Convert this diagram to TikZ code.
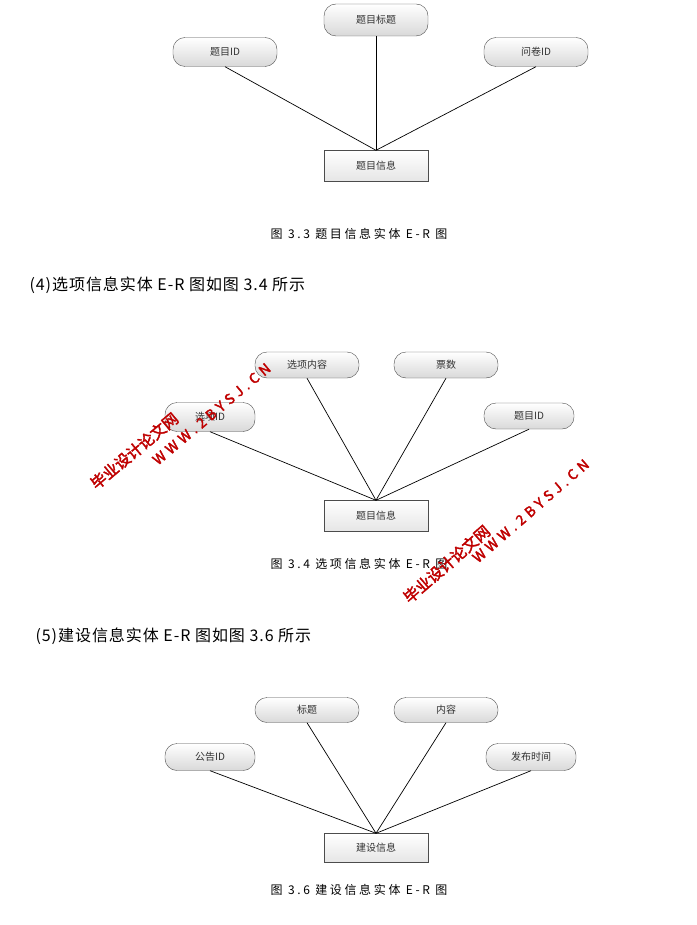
\documentclass[tikz,border=0pt]{standalone}
\usepackage{fontspec}
\setmainfont{Noto Sans CJK SC}
\newfontfamily\capfont[LetterSpace=22]{Noto Sans CJK SC}
\newfontfamily\headfont[LetterSpace=6]{Noto Sans CJK SC}
\newfontfamily\wmfont[FakeBold=2.5]{Noto Sans CJK SC}
\newfontfamily\wmlatin[FakeBold=2.5,LetterSpace=30]{Noto Sans CJK SC}
\tikzset{
  attr/.style={draw=black!70,rounded corners=12pt,minimum width=104pt,minimum height=29pt,
    top color=white,bottom color=black!15,font=\fontsize{10}{10}\selectfont,text=black!80},
  ent/.style={draw=black!70,minimum width=104pt,minimum height=31pt,
    top color=white,bottom color=black!10,font=\fontsize{10}{10}\selectfont,text=black!80},
  link/.style={black,line width=0.7pt},
  figcap/.style={font=\capfont\fontsize{12}{12}\selectfont},
  head/.style={anchor=west,font=\headfont\fontsize{16}{16}\selectfont},
  wm/.style={anchor=west,text=red!75!black,font=\wmfont\fontsize{15.5}{15.5}\selectfont},
  wmurl/.style={anchor=west,text=red!75!black,font=\wmlatin\fontsize{14}{14}\selectfont}
}
\begin{document}
\begin{tikzpicture}[x=1pt,y=-1pt]
  \useasboundingbox (0,0) rectangle (696,925);

  %--- Fig 3.3 ---
  \node[attr,minimum height=32pt] (title) at (376,20) {题目标题};
  \node[attr] (qid) at (225,52) {题目ID};
  \node[attr] (sid) at (536,52) {问卷ID};
  \node[ent] (qinfo) at (376,166) {题目信息};
  \draw[link] (qid.south) -- (qinfo.north);
  \draw[link] (title.south) -- (qinfo.north);
  \draw[link] (sid.south) -- (qinfo.north);
  \node[figcap] (cap1) at (359,234) {图 3.3 题目信息实体 E-R 图};

  \node[head] (head4) at (26,285) {(4)选项信息实体 E-R 图如图 3.4 所示};

  %--- Fig 3.4 ---
  \node[attr,minimum height=26pt] (ocont) at (307,365) {选项内容};
  \node[attr,minimum height=26pt] (votes) at (446,365) {票数};
  \node[attr,minimum width=90pt] (oid) at (210,417) {选项ID};
  \node[attr,minimum width=90pt,minimum height=26pt] (qid2) at (529,416) {题目ID};
  \node[ent] (qinfo2) at (376,516) {题目信息};
  \foreach \a in {oid,ocont,votes,qid2}
    \draw[link] (\a.south) -- (qinfo2.north);
  \node[figcap] (cap2) at (359,564) {图 3.4 选项信息实体 E-R 图};

  %--- watermarks ---
  \node[wm,rotate=40] (wm1) at (90,488) {毕业设计论文网};
  \node[wmurl,rotate=40] (wm2) at (152,464) {WWW.2BYSJ.CN};
  \node[wm,rotate=41] (wm3) at (403,602) {毕业设计论文网};
  \node[wmurl,rotate=41] (wm4) at (472,562) {WWW.2BYSJ.CN};

  \node[head] (head5) at (32,636) {(5)建设信息实体 E-R 图如图 3.6 所示};

  %--- Fig 3.6 ---
  \node[attr,minimum height=25pt] (ntitle) at (307,710) {标题};
  \node[attr,minimum height=25pt] (ncont) at (446,710) {内容};
  \node[attr,minimum width=90pt,minimum height=27pt] (nid) at (210,757) {公告ID};
  \node[attr,minimum width=90pt,minimum height=27pt] (ntime) at (531,757) {发布时间};
  \node[ent,minimum height=29pt] (ninfo) at (376,848) {建设信息};
  \foreach \a in {nid,ntitle,ncont,ntime}
    \draw[link] (\a.south) -- (ninfo.north);
  \node[figcap] (cap3) at (359,890) {图 3.6 建设信息实体 E-R 图};
\end{tikzpicture}
\end{document}
